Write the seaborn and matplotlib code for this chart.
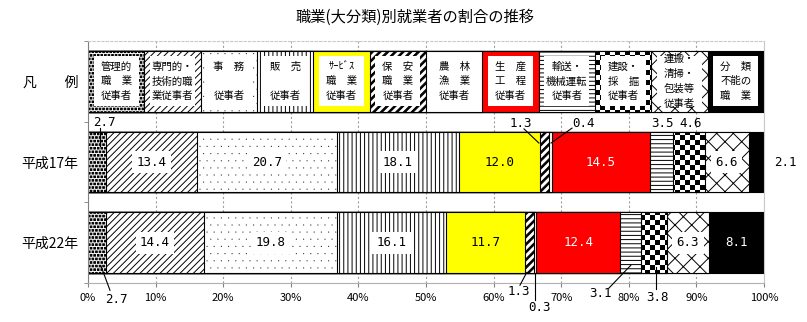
import numpy as np
import pandas as pd
import matplotlib
matplotlib.use('Agg')
import matplotlib.pyplot as plt
import matplotlib.hatch as mhatch
from matplotlib.path import Path
import seaborn as sns

# ---------------- data ----------------
title = '職業(大分類)別就業者の割合の推移'
row_labels = ['凡　　例', '平成17年', '平成22年']
occupations = ['管理的職業従事者', '専門的・技術的職業従事者', '事務従事者', '販売従事者',
               'サービス職業従事者', '保安職業従事者', '農林漁業従事者', '生産工程従事者',
               '輸送・機械運転従事者', '建設・採掘従事者', '運搬・清掃・包装等従事者', '分類不能の職業']
legend_texts = ['管理的\n職　業\n従事者', '専門的・\n技術的職\n業従事者', '事　務\n\n従事者',
                '販　売\n\n従事者', 'ｻｰﾋﾞｽ\n職　業\n従事者', '保　安\n職　業\n従事者',
                '農　林\n漁　業\n従事者', '生　産\n工　程\n従事者', '輸送・\n機械運転\n従事者',
                '建設・\n採　掘\n従事者', '運搬・\n清掃・\n包装等\n従事者', '分　類\n不能の\n職　業']
h17_values = [2.7, 13.4, 20.7, 18.1, 12.0, 1.3, 0.4, 14.5, 3.5, 4.6, 6.6, 2.1]
h22_values = [2.7, 14.4, 19.8, 16.1, 11.7, 1.3, 0.3, 12.4, 3.1, 3.8, 6.3, 8.1]
legend_share = [100 / 12] * 12
x_ticks = [0, 10, 20, 30, 40, 50, 60, 70, 80, 90, 100]
x_tick_labels = [f'{t}%' for t in x_ticks]

# ---------------- styles ----------------
face_colors = ['white', 'white', 'white', 'white', '#ffff00', 'white', 'white', '#ff0000',
               'white', 'white', 'white', 'black']
hatches = ['O', '/////', 'o', '||||', None, '.', None, None, '----', '*', 'xx', None]
text_colors = ['black'] * 7 + ['white'] + ['black'] * 3 + ['white']

# custom hatch tiles (checkerboard, confetti, sparse dots, thick stripes)
HLW = 0.7
plt.rcParams['hatch.linewidth'] = HLW
LW_U = HLW / 72.0


def _poly_path(polys):
    verts, codes = [], []
    for p in polys:
        verts += list(p) + [p[0]]
        codes += [Path.MOVETO] + [Path.LINETO] * (len(p) - 1) + [Path.CLOSEPOLY]
    return Path(np.array(verts, float), np.array(codes, Path.code_type))


def _squares(n, side, stagger, checker=False):
    a = max(side - LW_U, 1e-4)
    polys = []
    for j in range(n):
        for i in range(n):
            if checker and (i + j) % 2:
                continue
            cx = (i + 0.5 + (0.5 if (stagger and j % 2) else 0.0)) / n
            cy = (j + 0.5) / n
            for sx in (-1, 0, 1):
                x = cx + sx
                if x + a / 2 < 0 or x - a / 2 > 1:
                    continue
                polys.append([(x - a / 2, cy - a / 2), (x + a / 2, cy - a / 2),
                              (x + a / 2, cy + a / 2), (x - a / 2, cy + a / 2)])
    return _poly_path(polys)


def _stripes(n, width):
    w = max(width - LW_U * 1.4, 1e-4)
    polys = []
    for k in range(-n - 1, n + 1):
        x = k / n
        polys.append([(x, 0), (x + w, 0), (x + w + 1, 1), (x + 1, 1)])
    return _poly_path(polys)


_CUSTOM = {'O': _squares(28, 0.026, True), 'o': _squares(14, 0.011, True),
           '*': _squares(20, 1 / 20, False, checker=True), '.': _stripes(13, 0.036)}
_orig_get_path = mhatch.get_path


def _patched_get_path(hatchpattern, density=6):
    if hatchpattern in _CUSTOM:
        return _CUSTOM[hatchpattern]
    return _orig_get_path(hatchpattern, density)


mhatch.get_path = _patched_get_path

plt.rcParams['font.family'] = ['Noto Sans CJK JP', 'DejaVu Sans']
LABEL_FONT = ['DejaVu Sans Mono']

# ---------------- data frame ----------------
records = []
for r, vals in zip(row_labels, [legend_share, h17_values, h22_values]):
    cum = np.cumsum(vals)
    for occ, v, c in zip(occupations, vals, cum):
        records.append(dict(row=r, occ=occ, value=v, cum=c))
df = pd.DataFrame(records)

BAR_H = 0.756
fig = plt.figure(figsize=(8.07, 3.22), dpi=100)
ax = fig.add_axes([88 / 807, 1 - 283 / 322, 676 / 807, 242 / 322])

for i in reversed(range(len(occupations))):
    sub = df[df['occ'] == occupations[i]]
    sns.barplot(data=sub, x='cum', y='row', order=row_labels, orient='h',
                color=face_colors[i], saturation=1, hatch=hatches[i],
                edgecolor='black', linewidth=0.8, width=BAR_H, errorbar=None, ax=ax)

# white inner boxes of the legend row
inset_x = 0.85
for i in range(len(occupations)):
    start = sum(legend_share[:i])
    sns.barplot(x=[legend_share[i] - 2 * inset_x], y=[row_labels[0]], orient='h',
                left=start + inset_x, color='white', saturation=1, width=0.62,
                linewidth=0, errorbar=None, ax=ax)
    ax.text(start + legend_share[i] / 2, 0, legend_texts[i], ha='center', va='center',
            fontsize=7.5, linespacing=1.6, zorder=5)

# ---------------- data labels ----------------
# (row, occupation) -> (dx of label from segment centre, label y, leader (dx1, y1, dx2, y2))
outside = {
    (1, 0): (1.0, 0.513, (0.43, 0.58, 0.43, 0.80)),
    (1, 5): (-3.5, 0.517, (-3.05, 0.59, -0.85, 0.765)),
    (1, 6): (4.97, 0.517, (3.2, 0.58, 0.1, 0.765)),
    (1, 8): (0.2, 0.517, None),
    (1, 9): (0.3, 0.517, None),
    (1, 11): (4.25, 1.0, None),
    (2, 0): (2.8, 2.70, (1.9, 2.59, 0.57, 2.29)),
    (2, 5): (-1.6, 2.60, (-1.45, 2.527, -0.45, 2.37)),
    (2, 6): (0.57, 2.80, (0.0, 2.378, 0.0, 2.71)),
    (2, 8): (-4.5, 2.626, (-3.2, 2.564, 0.05, 2.28)),
    (2, 9): (0.6, 2.675, (0.3, 2.576, 0.3, 2.30)),
}

for r, vals in [(1, h17_values), (2, h22_values)]:
    cum = np.cumsum(vals)
    for i, v in enumerate(vals):
        cx = cum[i] - v / 2
        txt = f'{v:.1f}'
        if (r, i) in outside:
            dx, ty, lead = outside[(r, i)]
            ax.text(cx + dx, ty, txt, ha='center', va='center', fontsize=9,
                    family=LABEL_FONT, color='black', zorder=6)
            if lead is not None:
                ax.plot([cx + lead[0], cx + lead[2]], [lead[1], lead[3]],
                        color='black', lw=0.8, zorder=6, clip_on=False)
        else:
            bbox = None
            if hatches[i] is not None:
                bbox = dict(boxstyle='square,pad=0.35', fc='white', ec='none')
            ax.text(cx, r, txt, ha='center', va='center', fontsize=9,
                    family=LABEL_FONT, color=text_colors[i], bbox=bbox, zorder=6)

# ---------------- axes cosmetics ----------------
ax.set_xlim(0, 100)
ax.set_ylim(2.5, -0.5)
ax.set_xlabel('')
ax.set_ylabel('')
ax.set_xticks(x_ticks)
ax.set_xticklabels(x_tick_labels, fontsize=8)
ax.set_yticks([0, 1, 2])
ax.set_yticklabels(row_labels, fontsize=10)
ax.set_yticks([-0.5, 0.5, 1.5, 2.5], minor=True)
ax.tick_params(axis='y', which='major', length=0, pad=7)
ax.tick_params(axis='y', which='minor', length=3, color='#808080')
ax.tick_params(axis='x', which='major', length=3, color='#808080', pad=4)
ax.xaxis.grid(True, linestyle=(0, (2, 2)), color='#a0a0a0', linewidth=0.8)
ax.yaxis.grid(False)
ax.set_axisbelow(True)
ax.spines['left'].set_color('#808080')
ax.spines['bottom'].set_color('#b0b0b0')
ax.spines['top'].set_color('#c8c8c8')
ax.spines['top'].set_linestyle((0, (2, 2)))
ax.spines['right'].set_color('#c8c8c8')
for s in ax.spines.values():
    s.set_linewidth(0.8)

fig.text(415 / 807, 1 - 17 / 322, title, ha='center', va='center', fontsize=11)

fig.savefig('out.png', dpi=100)
